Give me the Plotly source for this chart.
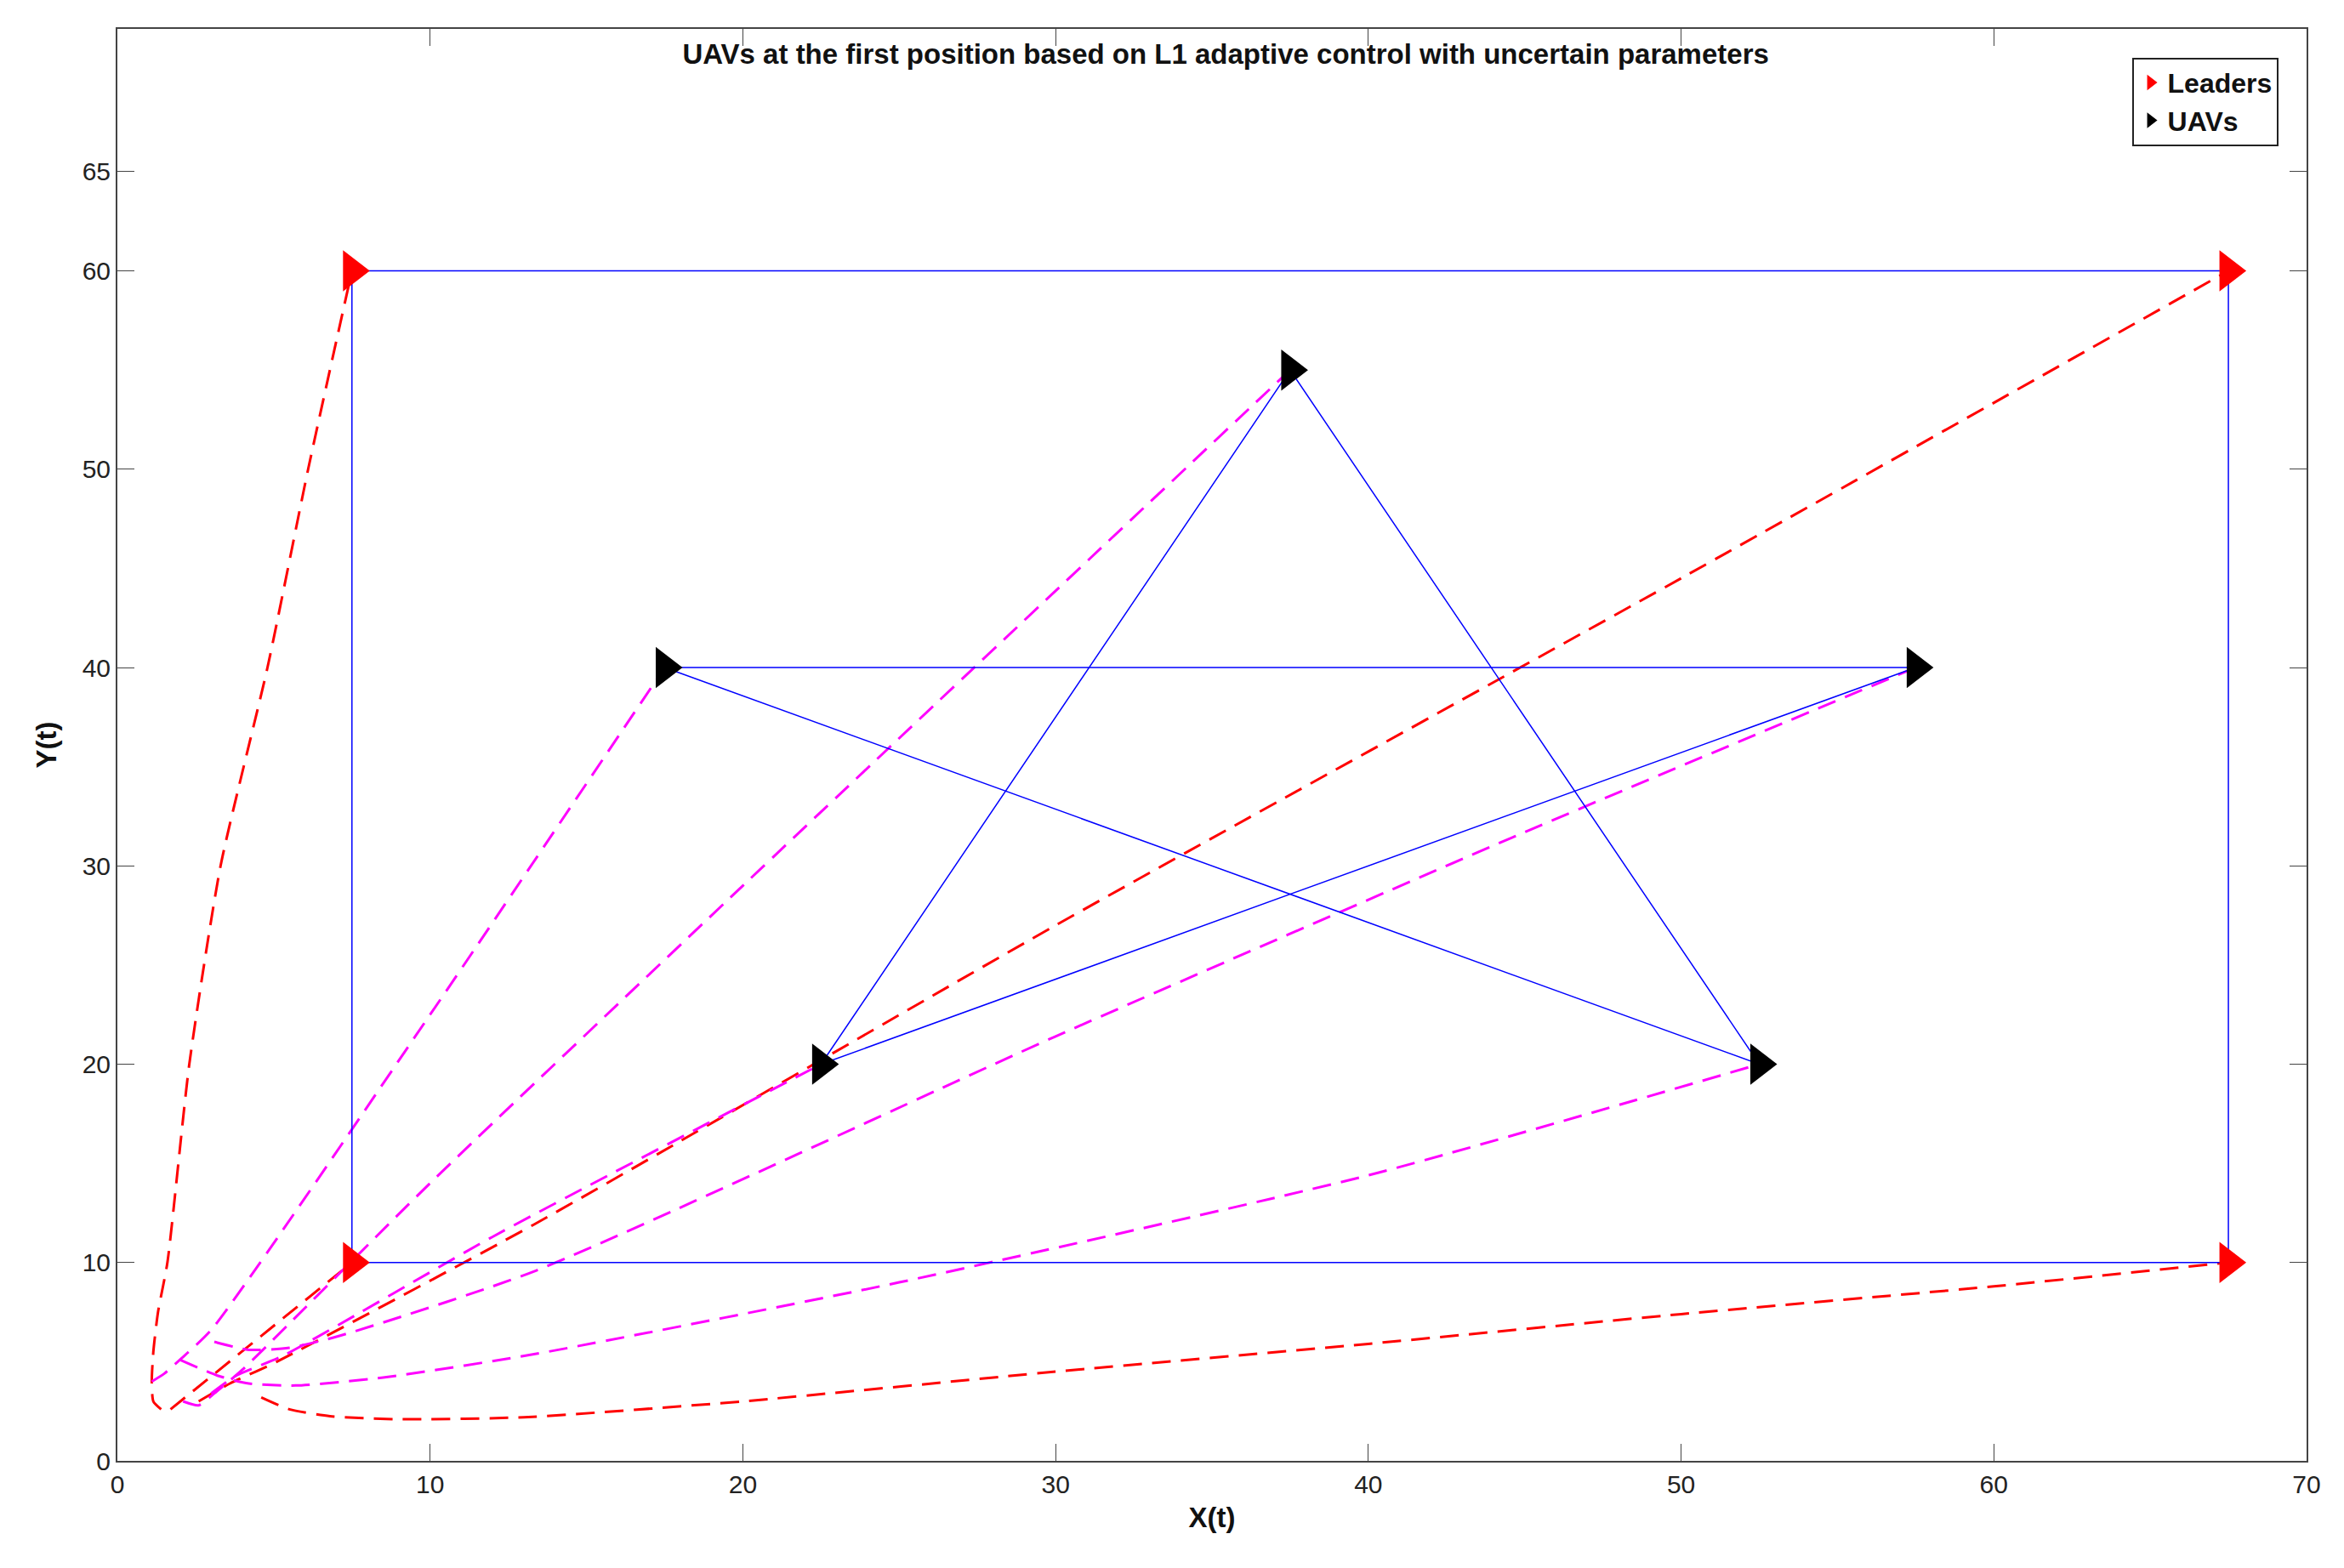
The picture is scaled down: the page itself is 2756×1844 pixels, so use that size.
import plotly.graph_objects as go

# formation positions
leader_x = [7.5, 67.5, 67.5, 7.5]
leader_y = [10, 10, 60, 60]
uav_x = [17.5, 37.5, 57.5, 22.5, 52.5]
uav_y = [40, 55, 40, 20, 20]

rect_x = [7.5, 67.5, 67.5, 7.5, 7.5]
rect_y = [10, 10, 60, 60, 10]
star_x = [17.5, 57.5, 22.5, 37.5, 52.5, 17.5]
star_y = [40, 40, 20, 55, 20, 40]

# leader trajectories
lead_traj = [
    ([1.4, 1.15, 1.1, 1.15, 1.3, 1.6, 2.3, 3.3, 4.8, 6.1, 7.5],
     [2.6, 3.0, 4.0, 5.5, 7.5, 10, 20, 30, 40, 50, 60]),
    ([1.7, 7.5], [2.6, 10]),
    ([4.6, 5.5, 6.8, 9.0, 13, 20, 30, 40, 50, 60, 67.5],
     [3.2, 2.6, 2.25, 2.1, 2.2, 3.0, 4.5, 5.9, 7.4, 8.8, 10]),
    ([2.6, 3.6, 5.1, 13.3, 30, 50, 67.5], [3.0, 3.9, 5.0, 11.9, 27, 44.5, 60]),
]
# UAV trajectories
uav_traj = [
    ([1.1, 1.5, 2.0, 3.0, 10, 17.5], [4.0, 4.4, 5.1, 6.6, 22.5, 40]),
    ([2.1, 2.6, 3.1, 4.0, 10, 20, 37.5], [3.0, 2.8, 3.4, 4.6, 14, 29, 55]),
    ([3.1, 4.2, 5.5, 7.1, 13.4, 30, 45, 57.5], [6.0, 5.6, 5.7, 6.3, 9.6, 21.4, 31.7, 40]),
    ([3.0, 3.8, 5.3, 12, 22.5], [3.4, 4.3, 5.3, 11.3, 20]),
    ([2.0, 3.2, 4.2, 5.7, 8.5, 13.4, 25, 40, 52.5], [5.1, 4.3, 3.9, 3.8, 4.2, 5.4, 9.0, 14.4, 20]),
]

fig = go.Figure()
for tx, ty in lead_traj:
    fig.add_trace(go.Scatter(x=tx, y=ty, mode='lines', showlegend=False,
                             line=dict(color='red', width=3, dash='22px,12px', shape='spline', smoothing=0.6)))
for tx, ty in uav_traj:
    fig.add_trace(go.Scatter(x=tx, y=ty, mode='lines', showlegend=False,
                             line=dict(color='magenta', width=3, dash='22px,12px', shape='spline', smoothing=0.6)))
fig.add_trace(go.Scatter(x=rect_x, y=rect_y, mode='lines', showlegend=False, line=dict(color='blue', width=1.5)))
fig.add_trace(go.Scatter(x=star_x, y=star_y, mode='lines', showlegend=False, line=dict(color='blue', width=1.5)))
fig.add_trace(go.Scatter(x=leader_x, y=leader_y, mode='markers', name='<b>Leaders</b>',
                         marker=dict(symbol='triangle-right', size=42, color='red')))
fig.add_trace(go.Scatter(x=uav_x, y=uav_y, mode='markers', name='<b>UAVs</b>',
                         marker=dict(symbol='triangle-right', size=42, color='black')))

axis = dict(showgrid=False, zeroline=False, mirror='ticks', ticks='inside', ticklen=20,
            showline=True, linecolor='#444', linewidth=2, tickcolor='#444',
            tickfont=dict(size=30, color='#222'))
fig.update_layout(
    width=2756, height=1844, plot_bgcolor='white', paper_bgcolor='white',
    font=dict(family='Liberation Sans', color='#111'),
    margin=dict(l=130, r=52, t=26, b=134),
    title=dict(text='<b>UAVs at the first position based on L1 adaptive control with uncertain parameters</b>',
               x=0.52, xanchor='center', y=0.97, yanchor='middle', font=dict(size=33)),
    xaxis=dict(axis, range=[0, 70], dtick=10,
               title=dict(text='<b>X(t)</b>', font=dict(size=33), standoff=12)),
    yaxis=dict(axis, range=[0, 72.2], tickvals=[0, 10, 20, 30, 40, 50, 60, 65],
               title=dict(text='<b>Y(t)</b>', font=dict(size=33), standoff=20)),
    legend=dict(x=0.987, y=0.98, xanchor='right', yanchor='top', bordercolor='#222', borderwidth=2,
                font=dict(size=32), bgcolor='white'),
)
fig.write_html("out.html")
